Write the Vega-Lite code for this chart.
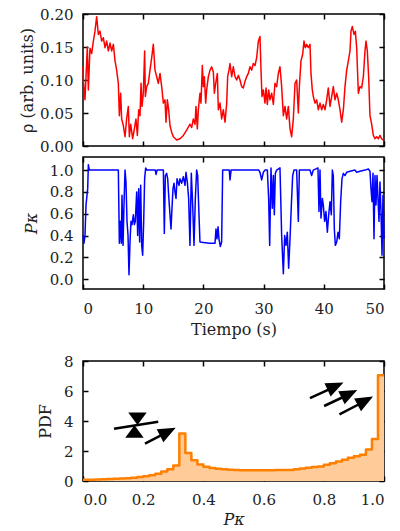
{
  "$schema": "https://vega.github.io/schema/vega-lite/v6.json",
  "padding": {"left": 18, "top": 6, "right": 10, "bottom": 0},
  "background": "white",
  "config": {
    "view": {"stroke": "#000", "strokeWidth": 1.5},
    "axis": {"labelFont": "DejaVu Serif", "titleFont": "DejaVu Serif", "labelFontSize": 15, "titleFontSize": 16, "titleFontWeight": "normal", "labelColor": "#222", "titleColor": "#222", "tickColor": "#000", "tickWidth": 1.5, "tickSize": -5, "labelPadding": 15, "domain": false, "grid": false, "minExtent": 0},
    "line": {"strokeJoin": "round"}
  },
  "datasets": {
    "rho": [
      {"t":0,"r":0.12},{"t":0.06,"r":0.1},{"t":0.33,"r":0.07},{"t":0.72,"r":0.15},{"t":0.89,"r":0.085},{"t":1.16,"r":0.148},{"t":1.44,"r":0.14},{"t":1.72,"r":0.159},{"t":1.99,"r":0.174},{"t":2.27,"r":0.196},{"t":2.55,"r":0.169},{"t":2.82,"r":0.174},{"t":3.1,"r":0.159},{"t":3.38,"r":0.164},{"t":3.66,"r":0.149},{"t":3.93,"r":0.159},{"t":4.21,"r":0.144},{"t":4.49,"r":0.156},{"t":4.76,"r":0.144},{"t":5.04,"r":0.154},{"t":5.32,"r":0.129},{"t":5.59,"r":0.115},{"t":5.87,"r":0.095},{"t":6.04,"r":0.046},{"t":6.26,"r":0.08},{"t":6.42,"r":0.041},{"t":6.7,"r":0.031},{"t":6.98,"r":0.014},{"t":7.25,"r":0.041},{"t":7.53,"r":0.06},{"t":7.7,"r":0.014},{"t":7.92,"r":0.033},{"t":8.25,"r":0.011},{"t":8.53,"r":0.026},{"t":8.8,"r":0.041},{"t":9.03,"r":0.016},{"t":9.25,"r":0.055},{"t":9.47,"r":0.046},{"t":9.64,"r":0.095},{"t":9.8,"r":0.06},{"t":10.02,"r":0.08},{"t":10.24,"r":0.144},{"t":10.36,"r":0.075},{"t":10.58,"r":0.09},{"t":10.85,"r":0.095},{"t":11.13,"r":0.115},{"t":11.41,"r":0.134},{"t":11.68,"r":0.154},{"t":11.96,"r":0.115},{"t":12.24,"r":0.105},{"t":12.51,"r":0.095},{"t":12.79,"r":0.11},{"t":13.07,"r":0.09},{"t":13.35,"r":0.065},{"t":13.62,"r":0.07},{"t":13.79,"r":0.036},{"t":14.01,"r":0.07},{"t":14.23,"r":0.055},{"t":14.45,"r":0.031},{"t":14.73,"r":0.021},{"t":15.01,"r":0.014},{"t":15.56,"r":0.009},{"t":16.11,"r":0.011},{"t":16.67,"r":0.016},{"t":17.22,"r":0.024},{"t":17.77,"r":0.033},{"t":18.05,"r":0.028},{"t":18.33,"r":0.041},{"t":18.61,"r":0.033},{"t":18.77,"r":0.06},{"t":18.99,"r":0.026},{"t":19.16,"r":0.055},{"t":19.43,"r":0.08},{"t":19.6,"r":0.065},{"t":19.82,"r":0.122},{"t":19.99,"r":0.09},{"t":20.16,"r":0.105},{"t":20.38,"r":0.065},{"t":20.54,"r":0.085},{"t":20.82,"r":0.105},{"t":21.1,"r":0.115},{"t":21.37,"r":0.12},{"t":21.65,"r":0.112},{"t":21.82,"r":0.08},{"t":22.04,"r":0.095},{"t":22.32,"r":0.11},{"t":22.48,"r":0.055},{"t":22.76,"r":0.065},{"t":23.03,"r":0.041},{"t":23.31,"r":0.055},{"t":23.59,"r":0.036},{"t":23.87,"r":0.065},{"t":24.03,"r":0.105},{"t":24.25,"r":0.115},{"t":24.42,"r":0.125},{"t":24.7,"r":0.105},{"t":24.97,"r":0.12},{"t":25.25,"r":0.105},{"t":25.53,"r":0.1},{"t":25.8,"r":0.107},{"t":26.08,"r":0.1},{"t":26.36,"r":0.09},{"t":26.63,"r":0.088},{"t":26.91,"r":0.098},{"t":27.19,"r":0.105},{"t":27.46,"r":0.11},{"t":27.74,"r":0.12},{"t":28.02,"r":0.115},{"t":28.29,"r":0.125},{"t":28.57,"r":0.122},{"t":28.85,"r":0.134},{"t":29.13,"r":0.159},{"t":29.4,"r":0.166},{"t":29.57,"r":0.115},{"t":29.73,"r":0.075},{"t":29.96,"r":0.085},{"t":30.23,"r":0.065},{"t":30.4,"r":0.088},{"t":30.62,"r":0.063},{"t":30.84,"r":0.085},{"t":31.06,"r":0.07},{"t":31.34,"r":0.08},{"t":31.62,"r":0.063},{"t":31.89,"r":0.095},{"t":32.17,"r":0.09},{"t":32.45,"r":0.11},{"t":32.72,"r":0.12},{"t":33.0,"r":0.09},{"t":33.28,"r":0.046},{"t":33.55,"r":0.06},{"t":33.83,"r":0.041},{"t":34.11,"r":0.06},{"t":34.39,"r":0.026},{"t":34.66,"r":0.014},{"t":34.94,"r":0.041},{"t":35.22,"r":0.095},{"t":35.49,"r":0.1},{"t":35.77,"r":0.05},{"t":35.94,"r":0.09},{"t":36.21,"r":0.129},{"t":36.49,"r":0.139},{"t":36.71,"r":0.159},{"t":36.93,"r":0.149},{"t":37.15,"r":0.154},{"t":37.43,"r":0.149},{"t":37.71,"r":0.154},{"t":37.87,"r":0.11},{"t":38.09,"r":0.085},{"t":38.26,"r":0.075},{"t":38.54,"r":0.065},{"t":38.81,"r":0.07},{"t":39.09,"r":0.055},{"t":39.37,"r":0.065},{"t":39.65,"r":0.055},{"t":39.92,"r":0.063},{"t":40.2,"r":0.055},{"t":40.48,"r":0.07},{"t":40.75,"r":0.088},{"t":41.03,"r":0.06},{"t":41.31,"r":0.075},{"t":41.58,"r":0.09},{"t":41.86,"r":0.07},{"t":42.14,"r":0.08},{"t":42.41,"r":0.07},{"t":42.69,"r":0.055},{"t":42.97,"r":0.036},{"t":43.25,"r":0.055},{"t":43.52,"r":0.09},{"t":43.8,"r":0.115},{"t":44.08,"r":0.129},{"t":44.35,"r":0.144},{"t":44.52,"r":0.174},{"t":44.74,"r":0.181},{"t":45.02,"r":0.169},{"t":45.24,"r":0.174},{"t":45.46,"r":0.149},{"t":45.74,"r":0.08},{"t":46.01,"r":0.09},{"t":46.29,"r":0.088},{"t":46.57,"r":0.105},{"t":46.84,"r":0.144},{"t":47.01,"r":0.159},{"t":47.23,"r":0.144},{"t":47.45,"r":0.105},{"t":47.67,"r":0.046},{"t":47.95,"r":0.033},{"t":48.23,"r":0.016},{"t":48.5,"r":0.011},{"t":48.78,"r":0.014},{"t":49.06,"r":0.011},{"t":49.33,"r":0.016},{"t":49.61,"r":0.011},{"t":49.89,"r":0.009}
    ],
    "pk": [
      {"t":0,"p":0.4},{"t":0.17,"p":0.33},{"t":0.33,"p":0.4},{"t":0.5,"p":0.68},{"t":0.61,"p":0.74},{"t":0.78,"p":0.83},{"t":0.89,"p":1.05},{"t":1.05,"p":1.0},{"t":3.0,"p":1.0},{"t":5.87,"p":1.0},{"t":6.04,"p":0.33},{"t":6.2,"p":0.53},{"t":6.37,"p":0.33},{"t":6.48,"p":0.77},{"t":6.65,"p":0.31},{"t":6.81,"p":0.68},{"t":6.98,"p":1.0},{"t":7.14,"p":0.89},{"t":7.31,"p":0.53},{"t":7.48,"p":0.4},{"t":7.64,"p":0.04},{"t":7.81,"p":0.34},{"t":7.97,"p":0.53},{"t":8.14,"p":0.5},{"t":8.36,"p":0.59},{"t":8.53,"p":0.5},{"t":8.69,"p":0.53},{"t":8.92,"p":0.8},{"t":9.08,"p":0.4},{"t":9.25,"p":0.83},{"t":9.41,"p":0.34},{"t":9.58,"p":0.86},{"t":9.75,"p":0.31},{"t":9.91,"p":0.22},{"t":10.08,"p":0.53},{"t":10.24,"p":0.92},{"t":10.41,"p":1.02},{"t":10.58,"p":1.0},{"t":12.0,"p":1.0},{"t":12.13,"p":0.96},{"t":12.3,"p":1.0},{"t":13.35,"p":1.0},{"t":13.51,"p":0.42},{"t":13.68,"p":0.95},{"t":13.9,"p":0.97},{"t":14.07,"p":0.92},{"t":14.23,"p":0.77},{"t":14.45,"p":0.59},{"t":14.62,"p":0.46},{"t":14.78,"p":0.65},{"t":14.95,"p":0.83},{"t":15.12,"p":0.88},{"t":15.28,"p":0.8},{"t":15.45,"p":0.74},{"t":15.62,"p":0.92},{"t":15.78,"p":0.89},{"t":15.95,"p":0.86},{"t":16.11,"p":0.92},{"t":16.39,"p":0.88},{"t":16.67,"p":0.94},{"t":16.94,"p":0.86},{"t":17.11,"p":0.98},{"t":17.33,"p":0.89},{"t":17.55,"p":0.74},{"t":17.77,"p":0.31},{"t":17.99,"p":0.97},{"t":18.22,"p":0.68},{"t":18.44,"p":0.31},{"t":18.66,"p":0.74},{"t":18.88,"p":1.0},{"t":19.05,"p":0.95},{"t":19.21,"p":0.68},{"t":19.43,"p":0.34},{"t":20.0,"p":0.336},{"t":21.0,"p":0.33},{"t":21.93,"p":0.33},{"t":22.09,"p":0.46},{"t":22.26,"p":0.37},{"t":22.43,"p":0.48},{"t":22.59,"p":0.37},{"t":22.81,"p":0.3},{"t":23.03,"p":0.34},{"t":23.2,"p":1.0},{"t":24.3,"p":1.0},{"t":24.42,"p":0.91},{"t":24.6,"p":1.0},{"t":29.2,"p":1.0},{"t":29.4,"p":0.98},{"t":29.68,"p":0.91},{"t":29.96,"p":0.98},{"t":30.23,"p":1.0},{"t":30.62,"p":1.0},{"t":30.84,"p":0.74},{"t":31.01,"p":0.31},{"t":31.23,"p":1.02},{"t":31.45,"p":0.65},{"t":31.62,"p":0.95},{"t":31.78,"p":0.59},{"t":31.95,"p":0.97},{"t":32.17,"p":1.0},{"t":32.72,"p":1.02},{"t":33.0,"p":0.4},{"t":33.28,"p":0.05},{"t":33.5,"p":0.4},{"t":33.72,"p":0.31},{"t":33.94,"p":0.43},{"t":34.16,"p":0.1},{"t":34.39,"p":0.37},{"t":34.61,"p":0.68},{"t":34.83,"p":0.95},{"t":35.05,"p":1.0},{"t":35.49,"p":1.0},{"t":35.77,"p":0.53},{"t":35.94,"p":1.0},{"t":37.7,"p":1.0},{"t":37.98,"p":0.95},{"t":38.26,"p":1.0},{"t":39.03,"p":1.02},{"t":39.2,"p":0.62},{"t":39.37,"p":1.0},{"t":39.53,"p":0.56},{"t":39.76,"p":0.74},{"t":39.92,"p":0.68},{"t":40.14,"p":0.53},{"t":40.36,"p":0.62},{"t":40.59,"p":0.43},{"t":40.81,"p":0.59},{"t":41.03,"p":0.71},{"t":41.25,"p":0.59},{"t":41.42,"p":1.0},{"t":41.58,"p":0.95},{"t":41.75,"p":0.46},{"t":41.92,"p":0.31},{"t":42.14,"p":0.34},{"t":42.36,"p":0.43},{"t":42.58,"p":0.37},{"t":42.8,"p":0.71},{"t":43.02,"p":0.92},{"t":43.24,"p":0.97},{"t":43.52,"p":0.95},{"t":43.8,"p":0.98},{"t":44.35,"p":0.99},{"t":45.18,"p":1.0},{"t":45.46,"p":0.98},{"t":46.01,"p":0.99},{"t":46.84,"p":1.0},{"t":47.4,"p":1.01},{"t":47.67,"p":0.99},{"t":47.84,"p":0.83},{"t":48.01,"p":0.71},{"t":48.17,"p":0.97},{"t":48.34,"p":0.37},{"t":48.5,"p":0.95},{"t":48.67,"p":0.68},{"t":48.84,"p":0.95},{"t":49.0,"p":0.74},{"t":49.17,"p":0.53},{"t":49.33,"p":0.89},{"t":49.5,"p":0.62},{"t":49.67,"p":0.22},{"t":49.83,"p":0.77},{"t":50.0,"p":0.37}
    ],
    "hist": [
      {"x":0.0,"d":0.08},{"x":0.02,"d":0.09},{"x":0.04,"d":0.1},{"x":0.06,"d":0.11},{"x":0.08,"d":0.13},{"x":0.1,"d":0.15},{"x":0.12,"d":0.17},{"x":0.14,"d":0.19},{"x":0.16,"d":0.22},{"x":0.18,"d":0.26},{"x":0.2,"d":0.31},{"x":0.22,"d":0.38},{"x":0.24,"d":0.49},{"x":0.26,"d":0.64},{"x":0.28,"d":0.78},{"x":0.3,"d":1.04},{"x":0.32,"d":3.16},{"x":0.34,"d":1.87},{"x":0.36,"d":1.38},{"x":0.38,"d":1.1},{"x":0.4,"d":0.95},{"x":0.42,"d":0.87},{"x":0.44,"d":0.82},{"x":0.46,"d":0.78},{"x":0.48,"d":0.75},{"x":0.5,"d":0.73},{"x":0.52,"d":0.72},{"x":0.54,"d":0.72},{"x":0.56,"d":0.72},{"x":0.58,"d":0.72},{"x":0.6,"d":0.72},{"x":0.62,"d":0.72},{"x":0.64,"d":0.73},{"x":0.66,"d":0.73},{"x":0.68,"d":0.74},{"x":0.7,"d":0.78},{"x":0.72,"d":0.83},{"x":0.74,"d":0.88},{"x":0.76,"d":0.93},{"x":0.78,"d":0.97},{"x":0.8,"d":1.08},{"x":0.82,"d":1.18},{"x":0.84,"d":1.3},{"x":0.86,"d":1.42},{"x":0.88,"d":1.55},{"x":0.9,"d":1.65},{"x":0.92,"d":1.75},{"x":0.94,"d":2.1},{"x":0.96,"d":2.8},{"x":0.98,"d":7.05},{"x":1.0,"d":7.05}
    ],
    "shafts": [
      {"x":0.754,"y":5.53,"x2":0.845,"y2":6.36},
      {"x":0.801,"y":5.0,"x2":0.891,"y2":5.85},
      {"x":0.852,"y":4.44,"x2":0.944,"y2":5.4},
      {"x":0.206,"y":2.49,"x2":0.288,"y2":3.34},
      {"x":0.103,"y":3.49,"x2":0.25,"y2":3.95}
    ],
    "heads": [
      {"x":0.836,"y":6.3,"a":65,"z":380,"s":"M0,-1L0.75,0.8L-0.75,0.8Z"},
      {"x":0.882,"y":5.78,"a":64,"z":380,"s":"M0,-1L0.75,0.8L-0.75,0.8Z"},
      {"x":0.935,"y":5.32,"a":62,"z":380,"s":"M0,-1L0.75,0.8L-0.75,0.8Z"},
      {"x":0.279,"y":3.26,"a":63,"z":380,"s":"M0,-1L0.75,0.8L-0.75,0.8Z"},
      {"x":0.181,"y":4.15,"a":180,"z":420,"s":"M0,-0.6L0.9,0.6L-0.9,0.6Z"},
      {"x":0.171,"y":3.3,"a":0,"z":420,"s":"M0,-0.6L0.9,0.6L-0.9,0.6Z"}
    ]
  },
  "vconcat": [
    {
      "spacing": 0,
      "vconcat": [
        {
          "width": 301, "height": 132,
          "data": {"name": "rho"},
          "layer": [
            {
              "mark": {"type": "line", "color": "#ff0000", "strokeWidth": 1.5},
              "encoding": {
                "x": {"field": "t", "type": "quantitative", "scale": {"domain": [0, 50], "nice": false}, "axis": {"orient": "bottom", "labels": false, "labelPadding": 0, "values": [0,10,20,30,40,50], "title": null}},
                "y": {"field": "r", "type": "quantitative", "scale": {"domain": [0, 0.2], "nice": false}, "axis": {"orient": "left", "values": [0,0.05,0.1,0.15,0.2], "format": ".2f", "title": "ρ (arb. units)", "titlePadding": 4}}
              }
            },
            {
              "mark": {"type": "line", "opacity": 0},
              "encoding": {
                "x": {"field": "t", "type": "quantitative", "axis": {"orient": "top", "labels": false, "labelPadding": 0, "values": [0,10,20,30,40,50], "title": null}},
                "y": {"field": "r", "type": "quantitative", "axis": {"orient": "right", "labels": false, "labelPadding": 0, "values": [0,0.05,0.1,0.15,0.2], "title": null}}
              }
            }
          ],
          "resolve": {"axis": {"x": "independent", "y": "independent"}}
        },
        {
          "width": 301, "height": 132,
          "data": {"name": "pk"},
          "layer": [
            {
              "mark": {"type": "line", "color": "#0000ff", "strokeWidth": 1.5},
              "encoding": {
                "x": {"field": "t", "type": "quantitative", "scale": {"domain": [0, 50], "nice": false}, "axis": {"orient": "bottom", "values": [0,10,20,30,40,50], "title": "Tiempo (s)", "titlePadding": 5, "labelPadding": 17}},
                "y": {"field": "p", "type": "quantitative", "scale": {"domain": [-0.09, 1.12], "nice": false, "zero": false}, "axis": {"orient": "left", "values": [0,0.2,0.4,0.6,0.8,1.0], "format": ".1f", "title": "Pκ", "titleFontStyle": "italic", "titlePadding": 10}}
              }
            },
            {
              "mark": {"type": "line", "opacity": 0},
              "encoding": {
                "x": {"field": "t", "type": "quantitative", "axis": {"orient": "top", "labels": false, "labelPadding": 0, "values": [0,10,20,30,40,50], "title": null}},
                "y": {"field": "p", "type": "quantitative", "axis": {"orient": "right", "labels": false, "labelPadding": 0, "values": [0,0.2,0.4,0.6,0.8,1.0], "title": null}}
              }
            }
          ],
          "resolve": {"axis": {"x": "independent", "y": "independent"}}
        }
      ]
    },
    {
      "width": 301, "height": 120,
      "layer": [
        {
          "data": {"name": "hist"},
          "mark": {"type": "area", "interpolate": "step-after", "color": "#ffcc99", "opacity": 1},
          "encoding": {
            "x": {"field": "x", "type": "quantitative", "scale": {"domain": [0, 1], "nice": false}, "axis": {"orient": "bottom", "values": [0,0.2,0.4,0.6,0.8,1.0], "format": ".1f", "title": "Pκ", "titleFontStyle": "italic", "titlePadding": 4, "labelPadding": 16}},
            "y": {"field": "d", "type": "quantitative", "scale": {"domain": [0, 8], "nice": false}, "axis": {"orient": "left", "values": [0,2,4,6,8], "title": "PDF", "titlePadding": 10}}
          }
        },
        {
          "data": {"name": "hist"},
          "mark": {"type": "line", "interpolate": "step-after", "color": "#ff8000", "strokeWidth": 2.5},
          "encoding": {
            "x": {"field": "x", "type": "quantitative", "axis": null},
            "y": {"field": "d", "type": "quantitative", "axis": null}
          }
        },
        {
          "data": {"name": "shafts"},
          "mark": {"type": "rule", "color": "black", "strokeWidth": 2.5},
          "encoding": {
            "x": {"field": "x", "type": "quantitative", "axis": null},
            "y": {"field": "y", "type": "quantitative", "axis": null},
            "x2": {"field": "x2"},
            "y2": {"field": "y2"}
          }
        },
        {
          "data": {"name": "heads"},
          "mark": {"type": "point", "filled": true, "color": "black", "opacity": 1},
          "encoding": {
            "x": {"field": "x", "type": "quantitative", "axis": null},
            "y": {"field": "y", "type": "quantitative", "axis": null},
            "shape": {"field": "s", "type": "nominal", "scale": null},
            "size": {"field": "z", "type": "quantitative", "scale": null},
            "angle": {"field": "a", "type": "quantitative", "scale": null}
          }
        },
        {
          "data": {"name": "hist"},
          "mark": {"type": "line", "opacity": 0},
          "encoding": {
            "x": {"field": "x", "type": "quantitative", "axis": {"orient": "top", "labels": false, "labelPadding": 0, "values": [0,0.2,0.4,0.6,0.8,1.0], "title": null}},
            "y": {"field": "d", "type": "quantitative", "axis": {"orient": "right", "labels": false, "labelPadding": 0, "values": [0,2,4,6,8], "title": null}}
          }
        }
      ],
      "resolve": {"axis": {"x": "independent", "y": "independent"}}
    }
  ],
  "spacing": 15
}
